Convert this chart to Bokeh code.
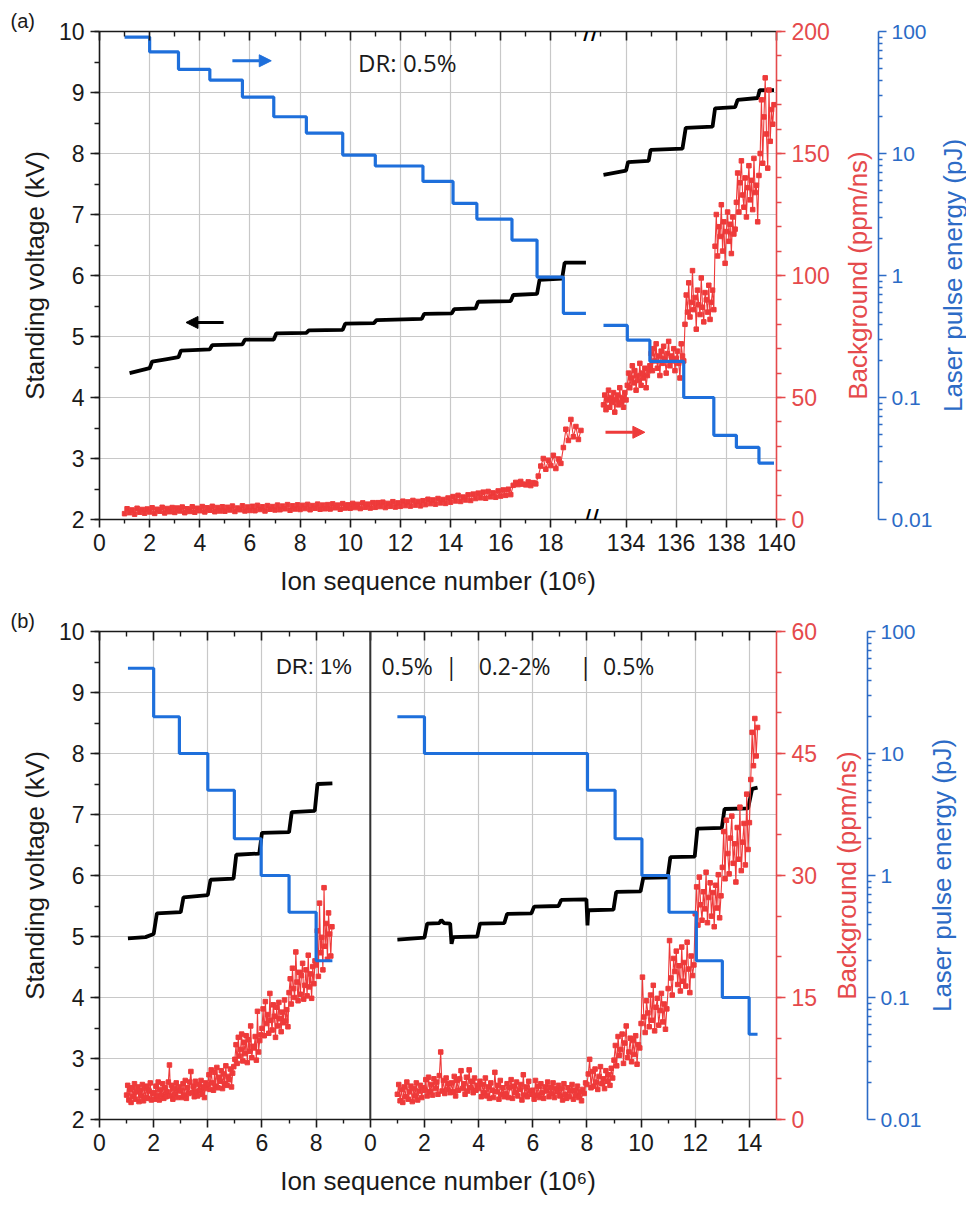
from bokeh.plotting import figure
from bokeh.layouts import column, row
from bokeh.models import (Range1d, LinearAxis, LogAxis, LogScale, FixedTicker,
                          SingleIntervalTicker, CustomJSTickFormatter, Label, Arrow,
                          NormalHead, Span, Title)
from bokeh.embed import file_html
from bokeh.resources import INLINE

FONT = "Liberation Sans"
TXT = "#1a1a1a"
RED = "#EE3A3A"
RED_AX = "#E54A4C"
BLUE = "#1E6FDB"
BLUE_AX = "#2C6BC6"
GRID = "#c8c8c8"

# ---------------- Panel (a) data ----------------
a_left_end = 19.6        # end of first x segment (10^6 ions)
a_right_start = 132.6    # start of second x segment after the break
a_right_end = 140.0
a_x_major = [0, 2, 4, 6, 8, 10, 12, 14, 16, 18, 134, 136, 138, 140]
a_x_minor = [1, 3, 5, 7, 9, 11, 13, 15, 17, 19, 133, 135, 137, 139]

a_volt_l_x = [1.2, 2.0, 2.1, 2.7, 3.15, 3.25, 4.4, 4.5, 5.7, 5.8, 6.95, 7.05, 8.25, 8.35,
              9.7, 9.8, 10.95, 11.05, 12.85, 12.95, 14.05, 14.15, 15.0, 15.1, 16.4, 16.5,
              17.45, 17.55, 18.45, 18.55, 19.4]
a_volt_l_y = [4.40, 4.48, 4.59, 4.63, 4.66, 4.77, 4.79, 4.86, 4.87, 4.95, 4.95, 5.05, 5.06, 5.10,
              5.11, 5.21, 5.22, 5.27, 5.29, 5.37, 5.38, 5.45, 5.46, 5.57, 5.58, 5.68,
              5.70, 5.93, 5.95, 6.21, 6.21]
a_volt_r_x = [133.1, 134.0, 134.08, 134.9, 134.98, 136.25, 136.38, 137.45, 137.55, 138.35,
              138.45, 139.25, 139.33, 139.9]
a_volt_r_y = [7.65, 7.72, 7.86, 7.88, 8.06, 8.08, 8.42, 8.44, 8.74, 8.76, 8.88, 8.91, 9.04, 9.04]

a_laser_l_edges = [1.0, 2.0, 3.15, 4.4, 5.7, 6.95, 8.25, 9.7, 11.0, 12.9, 14.1, 15.05, 16.45,
                   17.45, 18.5, 19.4]
a_laser_l_pj = [90, 68, 49, 40, 29, 20, 14.7, 9.7, 7.9, 5.9, 3.9, 2.9, 1.95, 0.97, 0.49]
a_laser_r_edges = [133.1, 134.05, 134.95, 136.3, 137.5, 138.4, 139.3, 139.9]
a_laser_r_pj = [0.39, 0.295, 0.198, 0.1, 0.049, 0.039, 0.029]

a_bg_l_start, a_bg_l_step = 1.0, 0.1
a_bg_l = [2.4, 4.4, 2.8, 3.9, 2.2, 4.6, 3.0, 4.1, 2.6, 4.3,
          3.1, 4.8, 2.5, 4.2, 3.4, 5.0, 2.7, 4.5, 3.2, 4.9,
          2.9, 4.7, 3.5, 5.1, 2.8, 4.4, 3.3, 5.2, 3.0, 4.6,
          3.6, 5.3, 3.1, 4.8, 3.8, 5.4, 3.2, 4.9, 3.5, 5.2,
          3.4, 5.0, 3.9, 5.5, 3.3, 4.7, 4.0, 5.6, 3.5, 5.1,
          3.7, 5.4, 3.6, 5.8, 4.1, 5.2, 3.5, 5.7, 4.2, 5.3,
          3.9, 5.9, 4.0, 5.5, 4.4, 6.1, 3.8, 5.6, 4.3, 6.0,
          4.1, 5.8, 4.5, 6.2, 4.0, 5.7, 4.6, 6.3, 4.2, 5.9,
          4.4, 6.1, 4.3, 6.4, 4.8, 5.9, 4.2, 6.5, 4.7, 6.0,
          4.6, 6.6, 4.9, 6.2, 4.5, 6.8, 5.0, 6.3, 4.7, 6.9,
          5.0, 6.9, 5.3, 7.1, 4.9, 6.6, 5.4, 7.3, 5.1, 6.8,
          5.4, 7.5, 5.7, 7.2, 5.5, 7.8, 5.9, 7.4, 5.6, 7.7,
          6.1, 8.3, 6.5, 8.0, 6.3, 8.6, 6.8, 8.2, 6.6, 8.8,
          7.1, 9.4, 7.6, 9.9, 7.4, 9.2, 8.0, 10.1, 7.8, 10.4,
          8.6, 10.8, 8.9, 11.2, 8.7, 11.5, 9.3, 10.9, 9.1, 11.7,
          9.6, 12.1, 9.9, 12.4, 10.2, 14.0, 15.2, 14.3, 15.6, 14.5,
          14.2, 15.4, 13.9, 15.1, 14.6, 17.8, 21.9, 25.0, 20.6, 24.3,
          22.1, 26.3, 20.9, 24.8, 23.0, 29.5, 37.0, 32.4, 41.0, 33.9,
          38.1, 32.8, 36.5]
a_bg_r_start, a_bg_r_step = 133.10, 0.05
a_bg_r = [47, 51, 45, 49, 53, 46, 50, 48, 52, 44, 49, 51, 47, 54, 48, 50, 46, 52, 49,
          55, 60, 54, 58, 63, 56, 61, 53, 59, 57, 64, 55, 60, 58, 62, 54, 59, 61,
          63, 68, 61, 70, 65, 72, 62, 67, 59, 69, 64, 71, 66, 60, 68, 73, 63, 67, 65, 70,
          61, 66, 69, 64, 58, 72, 67, 65,
          80, 92, 85, 97, 83, 89, 102, 86, 91, 78, 94, 88, 84, 99, 87, 81, 93, 90, 85, 96,
          82, 89, 94, 86,
          112, 125, 108, 120, 116, 129, 110, 122, 105, 118, 126, 114, 121, 109, 124, 117, 119,
          130, 142, 126, 138, 147, 133, 128, 140, 124, 136, 145, 131, 139, 127, 148, 134, 137,
          122, 141,
          150, 172, 146, 165, 181, 158, 144, 176, 155, 168, 162, 170]

# ---------------- Panel (b) data ----------------
b_left_end = 10.0
b_right_end = 15.0
b_x_major = [0, 2, 4, 6, 8]
b_x_major_r = [0, 2, 4, 6, 8, 10, 12, 14]
b_x_minor = [1, 3, 5, 7, 9]
b_x_minor_r = [1, 3, 5, 7, 9, 11, 13]

b_volt_l_x = [1.05, 1.7, 2.0, 2.12, 3.0, 3.1, 4.0, 4.1, 4.95, 5.05, 5.9, 6.0, 7.0, 7.1, 7.95,
              8.05, 8.6]
b_volt_l_y = [4.97, 4.99, 5.04, 5.38, 5.40, 5.64, 5.68, 5.93, 5.95, 6.34, 6.36, 6.70, 6.71, 7.04,
              7.06, 7.50, 7.51]
b_laser_l_edges = [1.05, 2.0, 2.95, 4.0, 4.98, 5.97, 7.0, 8.0, 8.6]
b_laser_l_pj = [50, 20, 10, 5, 2, 1, 0.5, 0.2]
b_bg_l_start, b_bg_l_step = 1.0, 1.0 / 24
b_bg_l = [3.0, 4.2, 2.4, 3.7, 2.1, 3.9, 2.8, 4.4, 2.5, 3.4, 4.0, 2.2,
          3.6, 2.9, 4.3, 2.3, 3.8, 2.7, 4.1, 2.6, 3.5, 4.5, 2.4, 3.2,
          3.3, 2.5, 4.1, 2.9, 4.6, 2.4, 3.7, 3.0, 4.4, 2.6, 3.9, 2.8,
          3.4, 4.6, 6.7, 2.9, 4.2, 2.5, 3.8, 3.1, 4.5, 2.7, 3.6, 4.0,
          3.5, 2.7, 4.4, 3.0, 4.8, 2.6, 3.9, 3.2, 4.6, 5.9, 3.3, 4.1,
          2.8, 4.7, 3.4, 2.9, 4.3, 3.6, 4.8, 3.1, 4.0, 2.7, 4.5, 3.8,
          4.3, 5.5, 3.7, 6.1, 4.5, 3.6, 5.8, 4.1, 6.4, 3.9, 5.2, 4.7,
          6.0, 3.8, 5.6, 4.4, 6.6, 4.2, 5.3, 4.9, 6.2, 4.0, 5.7, 6.5,
          7.4, 9.2, 6.9, 10.1, 7.8, 8.6, 10.5, 7.2, 9.5, 8.1, 10.3, 7.0,
          9.8, 8.4, 11.5, 7.6, 9.0, 8.8, 10.2, 7.3, 13.3, 8.3, 9.7, 10.4,
          11.2, 13.6, 10.3, 14.5, 11.8, 12.9, 10.6, 15.5, 12.2, 11.0, 14.1, 12.7,
          10.1, 13.8, 11.5, 14.4, 12.4, 10.8, 13.2, 11.9, 14.7, 12.1, 13.5, 11.4,
          15.6, 17.3, 14.2, 18.6, 16.1, 15.0, 20.6, 16.9, 14.6, 18.1, 15.4, 17.7,
          19.2, 14.8, 16.5, 18.4, 15.2, 20.2, 16.3, 17.9, 14.9, 18.8, 16.7, 19.5,
          19.0, 23.2, 17.6, 26.6, 20.5, 22.4, 18.4, 28.5, 21.3, 24.1, 19.7, 25.4,
          22.8, 20.1, 23.7]

b_volt_r_x = [1.0, 2.0, 2.1, 2.55, 2.62, 2.72, 2.95, 3.0, 3.06, 3.95, 4.05, 4.95, 5.05, 5.95,
              6.05, 6.95, 7.05, 7.98, 8.02, 8.05, 8.12, 8.98, 9.08, 9.98, 10.08, 10.98, 11.08,
              11.98, 12.08, 12.98, 13.08, 13.95, 14.1, 14.3]
b_volt_r_y = [4.95, 4.98, 5.21, 5.22, 5.27, 5.22, 5.21, 4.88, 4.99, 5.00, 5.21, 5.22, 5.37, 5.38,
              5.49, 5.50, 5.60, 5.61, 5.18, 5.43, 5.43, 5.44, 5.73, 5.74, 5.96, 5.97, 6.30,
              6.31, 6.77, 6.78, 7.09, 7.10, 7.42, 7.44]
b_laser_r_edges = [1.0, 2.0, 8.02, 9.04, 10.03, 11.03, 12.04, 13.0, 13.99, 14.3]
b_laser_r_pj = [20, 10, 5, 2, 1, 0.5, 0.2, 0.1, 0.05]
b_bg_r_start, b_bg_r_step = 1.0, 0.05
b_bg_r = [3.1, 4.3, 2.3, 3.7, 2.1, 4.0, 2.8, 4.6, 2.5, 3.4, 4.1, 2.2, 3.8, 2.9, 4.5, 2.4, 3.5, 4.2, 2.7, 3.9,
          3.6, 4.9, 2.9, 5.2, 3.4, 4.3, 3.0, 5.0, 3.8, 4.6, 3.1, 5.4, 8.3, 3.5, 4.8, 3.2, 5.1, 3.7, 4.4, 3.3,
          4.5, 3.4, 5.3, 2.9, 4.8, 3.6, 5.0, 6.0, 3.8, 4.4, 3.1, 5.2, 3.5, 6.1, 3.9, 4.7, 3.3, 5.1, 3.6, 4.2,
          3.8, 4.7, 2.8, 4.3, 3.3, 5.1, 2.9, 4.0, 2.6, 4.5, 3.6, 2.7, 5.8, 3.4, 4.2, 2.5, 4.8, 3.1, 3.9, 2.8,
          3.2, 4.4, 2.7, 3.9, 4.9, 2.6, 4.1, 3.3, 4.6, 2.9, 3.7, 4.3, 2.4, 5.5, 3.0, 4.0, 2.8, 4.7, 3.5, 3.1,
          3.6, 2.5, 4.8, 3.0, 4.1, 2.7, 4.4, 3.3, 2.6, 4.0, 3.5, 4.6, 2.8, 3.9, 3.2, 4.5, 2.7, 3.8, 3.4, 4.2,
          2.9, 3.8, 2.4, 4.4, 3.1, 2.6, 3.9, 2.8, 3.5, 4.3, 2.5, 3.6, 3.0, 4.1, 2.7, 3.4, 2.3, 3.7, 3.2, 4.5,
          4.3, 5.6, 7.4, 3.9, 5.9, 4.1, 6.2, 4.6, 3.7, 5.3, 6.5, 4.4, 5.0, 3.8, 6.0, 4.7, 5.5, 4.2, 6.3, 5.1,
          7.3, 9.1, 6.6, 10.2, 7.9, 8.6, 10.5, 6.9, 9.4, 11.5, 7.6, 8.3, 10.0, 7.1, 9.7, 8.0, 10.3, 6.8, 9.2, 8.8,
          11.8, 17.5, 12.6, 10.7, 14.6, 13.1, 11.4, 15.3, 12.2, 16.5, 10.9, 13.8, 14.9, 11.6, 13.4, 15.5, 12.0, 14.2, 11.1, 13.6,
          16.1, 22.0, 17.4, 15.3, 19.8, 18.2, 20.7, 16.6, 18.9, 15.8, 21.2, 17.0, 19.3, 16.4, 21.8, 18.5, 15.6, 20.1, 17.7, 19.0,
          25.3, 28.6, 23.9, 29.8, 26.4, 24.5, 28.0, 25.9, 30.4, 24.2, 27.3, 29.1, 25.0, 27.9, 23.7, 28.8, 26.0, 30.1, 24.8, 27.5,
          31.0, 35.4, 29.6, 36.8, 32.7, 30.2, 34.6, 37.3, 31.5, 33.9, 29.2, 35.9, 32.0, 38.4, 30.6, 34.1, 36.4, 31.3, 40.0, 33.2,
          36.5, 41.8, 47.6, 43.5, 49.3, 44.7, 48.2]

laser_major = [0.01, 0.1, 1, 10, 100]
laser_minor = [m * d for d in (0.01, 0.1, 1, 10) for m in range(2, 10)]

FRAME_W, FRAME_H, BORDER_L = 677, 488, 99


def style(ax, color, tin, tout, mtin, mtout, fs="23px"):
    ax.axis_line_color = color
    ax.axis_line_width = 1.6
    ax.major_tick_line_color = color
    ax.major_tick_line_width = 1.6
    ax.minor_tick_line_color = color
    ax.minor_tick_line_width = 1.4
    ax.major_tick_in = tin
    ax.major_tick_out = tout
    ax.minor_tick_in = mtin
    ax.minor_tick_out = mtout
    ax.major_label_text_font = FONT
    ax.major_label_text_font_size = fs
    ax.major_label_text_color = color
    ax.major_label_standoff = 6
    ax.axis_label_text_font = FONT
    ax.axis_label_text_font_size = "26px"
    ax.axis_label_text_font_style = "normal"
    ax.axis_label_text_color = color
    ax.axis_label_standoff = 10


def step_path(edges, levels, shift):
    xs, ys = [], []
    for i, lv in enumerate(levels):
        xs += [edges[i] + shift, edges[i + 1] + shift]
        ys += [lv, lv]
    return xs, ys


def side_title(text, color, standoff):
    return Title(text=text, align="center", text_font=FONT, text_font_size="26px",
                 text_font_style="normal", text_color=color, standoff=standoff)


def make_panel(tag, x_end, major, minor, fmt, bg_end, bg_interval, bg_minor,
               top_b, bottom_b, right_b, blue_spine):
    p = figure(frame_width=FRAME_W, frame_height=FRAME_H, x_range=Range1d(0, x_end),
               y_range=Range1d(2, 10), output_backend="svg", toolbar_location=None,
               min_border_left=BORDER_L, min_border_right=right_b, min_border_top=top_b,
               min_border_bottom=bottom_b)
    p.extra_y_ranges = {"bg": Range1d(0, bg_end), "laser": Range1d(0.01, 100)}
    p.extra_y_scales = {"laser": LogScale()}
    p.outline_line_color = None
    p.background_fill_color = "white"
    p.border_fill_color = "white"
    p.title.text = tag
    p.title.align = "left"
    p.title.offset = -89
    p.title.standoff = 0
    p.title.text_font = FONT
    p.title.text_font_size = "20px"
    p.title.text_font_style = "normal"
    p.title.text_color = TXT
    xt = FixedTicker(ticks=major, minor_ticks=minor)
    xb = p.below[0]
    xb.ticker = xt
    xb.formatter = fmt
    style(xb, TXT, 0, 8, 0, 4)
    xb.axis_label = "Ion sequence number (10\u2076)"
    xb.axis_label_standoff = 12
    yl = p.left[0]
    yl.ticker = SingleIntervalTicker(interval=1, num_minor_ticks=2)
    style(yl, TXT, 0, 9, 0, 5)
    yl.axis_label = "Standing voltage (kV)"
    yl.axis_label_standoff = 6
    top = LinearAxis(ticker=xt, formatter=fmt)
    style(top, TXT, 9, 0, 5, 0)
    top.major_label_text_color = None
    top.major_label_text_font_size = "1px"
    top.major_label_standoff = 0
    p.add_layout(top, "above")
    ra = LinearAxis(y_range_name="bg",
                    ticker=SingleIntervalTicker(interval=bg_interval, num_minor_ticks=bg_minor))
    style(ra, RED_AX, 0, 9, 0, 5)
    p.add_layout(ra, "right")
    p.xgrid.ticker = xt
    p.xgrid.grid_line_color = GRID
    p.ygrid.grid_line_color = GRID
    p.xgrid.grid_line_width = 1.2
    p.ygrid.grid_line_width = 1.2

    # strip holding the red axis title and the blue (log) axis
    p_width = BORDER_L + FRAME_W + right_b
    f2 = figure(frame_width=1, frame_height=FRAME_H, x_range=Range1d(0, 1),
                y_range=Range1d(0.01, 100), x_axis_type=None, y_axis_type=None,
                output_backend="svg", toolbar_location=None,
                min_border_left=blue_spine - 1 - p_width, min_border_right=52,
                min_border_top=top_b, min_border_bottom=bottom_b)
    f2.y_scale = LogScale()
    f2.outline_line_color = None
    f2.border_fill_color = "white"
    f2.background_fill_color = "white"
    f2.add_layout(side_title("Background (ppm/ns)", RED_AX, 10), "left")
    la = LogAxis(ticker=FixedTicker(ticks=laser_major, minor_ticks=laser_minor),
                 formatter=CustomJSTickFormatter(code="""
                     if (tick >= 1) { return tick.toFixed(0); }
                     if (tick >= 0.1) { return tick.toFixed(1); }
                     return tick.toFixed(2);"""))
    style(la, BLUE_AX, 0, 8, 0, 4, fs="21px")
    la.major_label_standoff = 5
    f2.add_layout(la, "right")

    # strip holding the blue axis title
    f3 = figure(frame_width=1, frame_height=FRAME_H, x_range=Range1d(0, 1),
                y_range=Range1d(0, 1), x_axis_type=None, y_axis_type=None,
                output_backend="svg", toolbar_location=None,
                min_border_left=0, min_border_right=0,
                min_border_top=top_b, min_border_bottom=bottom_b)
    f3.outline_line_color = None
    f3.border_fill_color = "white"
    f3.background_fill_color = "white"
    f3.add_layout(side_title("Laser pulse energy (pJ)", BLUE_AX, 0), "left")
    return p, row(p, f2, f3, spacing=0)


def draw_section(p, shift, vx, vy, ledges, llev, bstart, bstep, bvals):
    p.line([x + shift for x in vx], vy, line_color="black", line_width=3.8)
    bx = [bstart + bstep * i + shift for i in range(len(bvals))]
    p.line(bx, bvals, line_color=RED, line_width=1.1, y_range_name="bg")
    p.scatter(bx, bvals, marker="square", size=4.5, color=RED, y_range_name="bg")
    lx, ly = step_path(ledges, llev, shift)
    p.line(lx, ly, line_color=BLUE, line_width=3.2, y_range_name="laser")


# ---------------- Panel (a) ----------------
a_shift = a_right_start - a_left_end
a_disp_major = [t if t < a_left_end else t - a_shift for t in a_x_major]
a_disp_minor = [t if t < a_left_end else t - a_shift for t in a_x_minor]
a_fmt = CustomJSTickFormatter(args=dict(brk=a_left_end, off=a_shift),
                              code="return (tick > brk ? tick + off : tick).toFixed(0);")
A_TOP, A_BOTTOM = 31, 83
pa, row_a = make_panel("(a)", a_right_end - a_shift, a_disp_major, a_disp_minor, a_fmt,
                       200, 50, 5, A_TOP, A_BOTTOM, 54, 876)
draw_section(pa, 0, a_volt_l_x, a_volt_l_y, a_laser_l_edges, a_laser_l_pj,
             a_bg_l_start, a_bg_l_step, a_bg_l)
draw_section(pa, -a_shift, a_volt_r_x, a_volt_r_y, a_laser_r_edges, a_laser_r_pj,
             a_bg_r_start, a_bg_r_step, a_bg_r)

for yb in (2, 10):
    pa.add_layout(Label(x=a_left_end, y=yb, text="//", text_font=FONT, text_font_size="28px",
                        text_align="center", text_baseline="middle", text_color="black"))

pa.add_layout(Arrow(end=NormalHead(size=12, fill_color=BLUE, line_color=BLUE),
                    x_start=5.3, y_start=9.52, x_end=6.85, y_end=9.52,
                    line_color=BLUE, line_width=3))
pa.add_layout(Arrow(end=NormalHead(size=12, fill_color="black", line_color="black"),
                    x_start=4.95, y_start=5.23, x_end=3.45, y_end=5.23,
                    line_color="black", line_width=3))
pa.add_layout(Arrow(end=NormalHead(size=12, fill_color=RED, line_color=RED),
                    x_start=133.18 - a_shift, y_start=3.43, x_end=134.75 - a_shift, y_end=3.43,
                    line_color=RED, line_width=3))
pa.add_layout(Label(x=12.4, y=9.49, text="DR:  0.5%", text_font="Open Sans",
                    text_font_size="24px", text_align="center", text_baseline="middle",
                    text_color=TXT))

# ---------------- Panel (b) ----------------
b_disp_major = b_x_major + [t + b_left_end for t in b_x_major_r]
b_disp_minor = b_x_minor + [t + b_left_end for t in b_x_minor_r]
b_fmt = CustomJSTickFormatter(args=dict(brk=b_left_end),
                              code="return (tick >= brk ? tick - brk : tick).toFixed(0);")
B_TOP, B_BOTTOM = 29, 86
pb, row_b = make_panel("(b)", b_left_end + b_right_end, b_disp_major, b_disp_minor, b_fmt,
                       60, 15, 3, B_TOP, B_BOTTOM, 48, 866)
draw_section(pb, 0, b_volt_l_x, b_volt_l_y, b_laser_l_edges, b_laser_l_pj,
             b_bg_l_start, b_bg_l_step, b_bg_l)
draw_section(pb, b_left_end, b_volt_r_x, b_volt_r_y, b_laser_r_edges, b_laser_r_pj,
             b_bg_r_start, b_bg_r_step, b_bg_r)
pb.add_layout(Span(location=b_left_end, dimension="height", line_color="#333333",
                   line_width=2))

b_texts = [("DR: 1%", 7.92, FONT, "22px"), ("0.5%", 11.36, "Open Sans", "23px"),
           ("|", 12.99, "Open Sans", "23px"), ("0.2-2%", 15.33, "Open Sans", "23px"),
           ("|", 17.95, "Open Sans", "23px"), ("0.5%", 19.54, "Open Sans", "23px")]
for txt, xx, fnt, fs in b_texts:
    pb.add_layout(Label(x=xx, y=9.43, text=txt, text_font=fnt, text_font_size=fs,
                        text_align="center", text_baseline="middle", text_color=TXT))

layout = column(row_a, row_b, spacing=0)
open("out.html", "w").write(file_html(layout, INLINE))
